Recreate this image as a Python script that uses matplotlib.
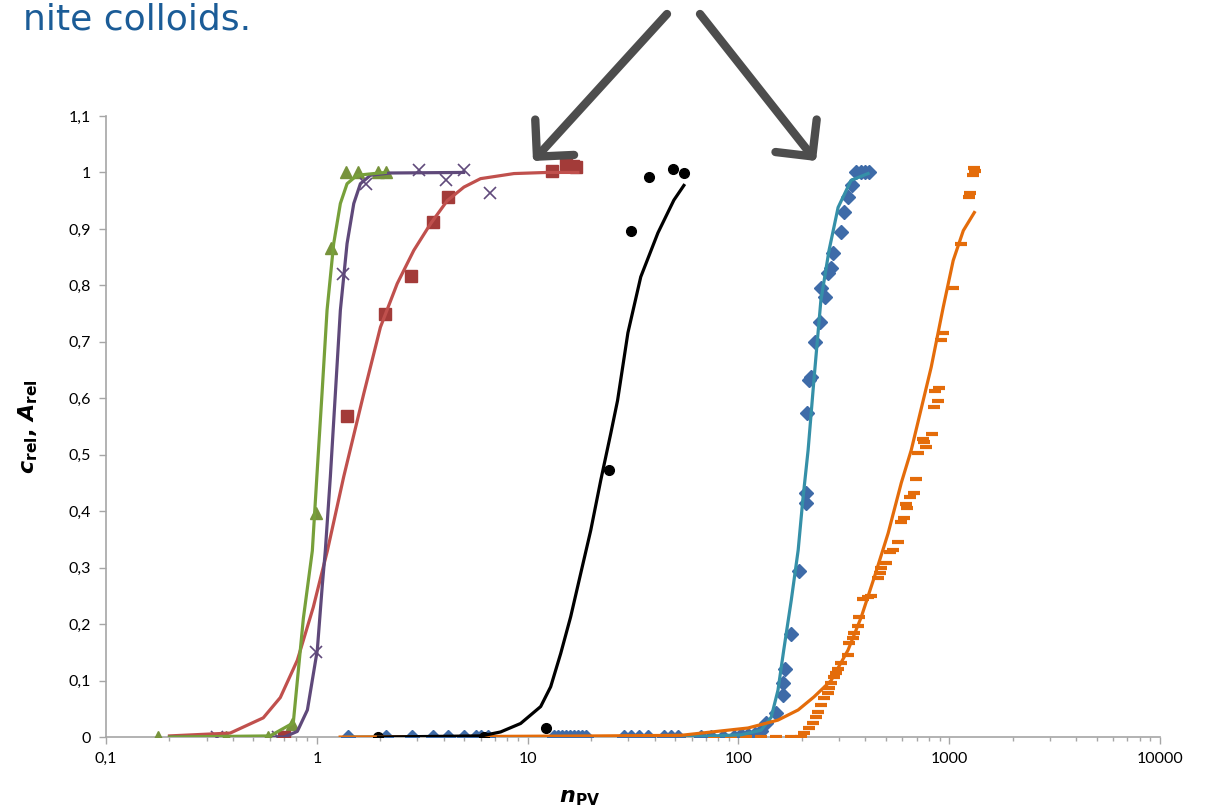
"""Breakthrough curves of tracer and colloids (relative concentration vs. pore volumes)."""

import matplotlib.pyplot as plt
from matplotlib.ticker import FixedLocator, FixedFormatter, LogLocator, NullFormatter

plt.rcParams["font.family"] = ["Lato", "DejaVu Sans"]
plt.rcParams["mathtext.fontset"] = "dejavusans"

# --- measured points -------------------------------------------------------
green_x = [0.177, 0.372, 0.589, 0.765, 0.995, 1.17, 1.37, 1.56, 1.94, 2.12]
green_y = [0.0, 0.0, 0.0, 0.023, 0.397, 0.866, 1.0, 1.0, 1.0, 1.0]

purple_x = [0.336, 0.656, 0.995, 1.336, 1.718, 3.04, 4.12, 4.97, 6.6]
purple_y = [0.0, 0.0, 0.15, 0.82, 0.98, 1.005, 0.986, 1.005, 0.963]

red_x = [0.701, 1.396, 2.115, 2.81, 3.54, 4.21, 13.1, 15.2, 16.4, 16.9]
red_y = [0.0, 0.568, 0.75, 0.816, 0.913, 0.956, 1.003, 1.015, 1.012, 1.01]

black_x = [1.96, 6.18, 12.2, 24.3, 30.8, 37.6, 48.9, 55.1]
black_y = [0.0, 0.0, 0.016, 0.473, 0.896, 0.992, 1.006, 0.999]

blue_x = [1.41, 2.12, 2.84, 3.54, 4.21, 4.97, 5.66, 6.04, 6.46,
          13.3, 13.9, 14.5, 15.2, 15.8, 16.6, 17.3, 18.1, 18.9,
          28.6, 30.9, 33.7, 37.2, 44.2, 47.8, 51.6, 66.4, 74.0, 84.4, 95.2,
          103, 111, 120, 128, 135, 151, 163, 163, 166, 178, 194, 209, 209,
          211, 216, 221, 231, 244, 246, 258, 266, 275, 281, 307, 317, 331,
          346, 361, 382, 399, 417]
blue_y = [0.0, 0.0, 0.0, 0.0, 0.0, 0.0, 0.0, 0.0, 0.0,
          0.0, 0.0, 0.0, 0.0, 0.0, 0.0, 0.0, 0.0, 0.0,
          0.0, 0.0, 0.0, 0.0, 0.0, 0.0, 0.0, 0.0, 0.0, 0.0, 0.0,
          0.003, 0.004, 0.006, 0.01, 0.025, 0.042, 0.074, 0.095, 0.12, 0.182,
          0.294, 0.414, 0.432, 0.574, 0.632, 0.638, 0.70, 0.735, 0.795, 0.779,
          0.822, 0.831, 0.857, 0.895, 0.93, 0.957, 0.978, 1.0, 1.0, 1.0, 1.0]

orange_x = [76.5, 92.0, 109, 128, 151, 178, 198, 205, 216, 226, 233, 239, 247,
            255, 266, 269, 275, 284, 291, 297, 307, 331, 335, 350, 354, 370,
            374, 390, 412, 426, 460, 470, 475, 502, 525, 542, 573, 592, 611,
            631, 625, 653, 682, 697, 713, 778, 761, 752, 830, 849, 887, 859,
            896, 916, 936, 1044, 1140, 1245, 1259, 1300, 1330, 1315]
orange_y = [0.0, 0.0, 0.0, 0.0, 0.0, 0.0, 0.0, 0.007, 0.016, 0.025, 0.035,
            0.044, 0.057, 0.069, 0.078, 0.087, 0.096, 0.106, 0.113, 0.12,
            0.131, 0.145, 0.166, 0.175, 0.184, 0.196, 0.212, 0.245, 0.248,
            0.25, 0.281, 0.29, 0.299, 0.308, 0.328, 0.331, 0.345, 0.38, 0.388,
            0.405, 0.412, 0.425, 0.432, 0.457, 0.503, 0.513, 0.522, 0.527,
            0.536, 0.584, 0.596, 0.612, 0.618, 0.704, 0.715, 0.796, 0.874,
            0.956, 0.963, 0.995, 1.003, 1.007]

# --- fitted curves ---------------------------------------------------------
green_fit_x = [0.2, 0.6, 0.773, 0.863, 0.952, 1.0, 1.058, 1.118, 1.202, 1.293,
               1.391, 1.552, 2.115]
green_fit_y = [0.0, 0.002, 0.025, 0.21, 0.33, 0.461, 0.608, 0.756, 0.874, 0.945,
               0.98, 0.995, 1.0]

purple_fit_x = [0.2, 0.7, 0.808, 0.902, 1.005, 1.062, 1.097, 1.159, 1.224, 1.293,
                1.391, 1.497, 1.609, 1.796, 2.234, 4.97]
purple_fit_y = [0.0, 0.0, 0.01, 0.048, 0.154, 0.27, 0.33, 0.461, 0.608, 0.756,
                0.874, 0.945, 0.98, 0.995, 0.999, 1.0]

red_fit_x = [0.2, 0.388, 0.557, 0.671, 0.808, 0.962, 1.122, 1.341, 1.669, 2.003,
             2.405, 2.884, 3.461, 4.155, 4.984, 5.98, 8.61, 12.4, 17.3]
red_fit_y = [0.002, 0.007, 0.034, 0.07, 0.136, 0.23, 0.33, 0.461, 0.608, 0.726,
             0.803, 0.862, 0.909, 0.95, 0.974, 0.989, 0.998, 1.0, 1.0]

black_fit_x = [1.96, 6.04, 7.44, 9.26, 11.53, 12.86, 14.35, 16.0, 17.86, 19.92,
               22.23, 24.8, 26.7, 29.9, 34.4, 41.5, 49.4, 55.1]
black_fit_y = [0.0, 0.002, 0.009, 0.024, 0.054, 0.089, 0.148, 0.213, 0.29, 0.366,
               0.455, 0.538, 0.596, 0.716, 0.815, 0.893, 0.951, 0.977]

teal_fit_x = [1.41, 66, 103, 128, 143, 154, 164, 178, 192, 202, 214, 228, 246,
              269, 297, 342, 412]
teal_fit_y = [0.0, 0.001, 0.004, 0.012, 0.035, 0.083, 0.154, 0.242, 0.331, 0.42,
              0.508, 0.632, 0.773, 0.862, 0.938, 0.986, 0.998]

orange_fit_x = [1.29, 5.98, 22.2, 53.3, 111, 154, 192, 228, 275, 331, 382, 441,
                513, 592, 660, 821, 936, 1044, 1166, 1315]
orange_fit_y = [0.0, 0.001, 0.002, 0.003, 0.016, 0.03, 0.048, 0.071, 0.1, 0.154,
                0.212, 0.283, 0.361, 0.45, 0.508, 0.655, 0.761, 0.844, 0.897, 0.929]

y_ticks = [0.0, 0.1, 0.2, 0.3, 0.4, 0.5, 0.6, 0.7, 0.8, 0.9, 1.0, 1.1]
y_labels = ["0", "0,1", "0,2", "0,3", "0,4", "0,5", "0,6", "0,7", "0,8", "0,9", "1", "1,1"]
x_ticks = [0.1, 1, 10, 100, 1000, 10000]
x_labels = ["0,1", "1", "10", "100", "1000", "10000"]


def main():
    fig = plt.figure(figsize=(12.05, 8.11), dpi=100)
    ax = fig.add_axes([0.088, 0.0912, 0.8747, 0.7658])

    ax.plot(blue_x, blue_y, "D", color="#3E6BA8", ms=7, mec="#3E6BA8", zorder=3)
    ax.plot(orange_x, orange_y, "_", color="#E46C0A", ms=8, mew=3, zorder=3)
    ax.plot(green_x, green_y, "^", color="#77933C", ms=9, zorder=3)
    ax.plot(purple_x, purple_y, "x", color="#604A7B", ms=8, mew=1.2, zorder=3)
    ax.plot(red_x, red_y, "s", color="#A33B39", ms=8, zorder=3)
    ax.plot(black_x, black_y, "o", color="black", ms=7, zorder=3)

    lw = 2.3
    ax.plot(teal_fit_x, teal_fit_y, color="#3590A8", lw=lw, zorder=4)
    ax.plot(orange_fit_x, orange_fit_y, color="#E46C0A", lw=lw, zorder=4)
    ax.plot(black_fit_x, black_fit_y, color="black", lw=lw, zorder=4)
    ax.plot(red_fit_x, red_fit_y, color="#C0504D", lw=lw, zorder=4)
    ax.plot(purple_fit_x, purple_fit_y, color="#5F497A", lw=lw, zorder=4)
    ax.plot(green_fit_x, green_fit_y, color="#77A03A", lw=lw, zorder=4)

    ax.set_xscale("log")
    ax.set_xlim(0.1, 10000)
    ax.set_ylim(0, 1.1)
    ax.xaxis.set_major_locator(FixedLocator(x_ticks))
    ax.xaxis.set_major_formatter(FixedFormatter(x_labels))
    ax.xaxis.set_minor_locator(LogLocator(base=10, subs=range(2, 10)))
    ax.xaxis.set_minor_formatter(NullFormatter())
    ax.yaxis.set_major_locator(FixedLocator(y_ticks))
    ax.yaxis.set_major_formatter(FixedFormatter(y_labels))

    for side in ("top", "right"):
        ax.spines[side].set_visible(False)
    for side in ("left", "bottom"):
        ax.spines[side].set_color("#A6A6A6")
        ax.spines[side].set_linewidth(1.2)
    ax.tick_params(axis="both", which="major", color="#A6A6A6", length=5, width=1,
                   labelsize=11.5, pad=6)
    ax.tick_params(axis="x", which="minor", color="#A6A6A6", length=3, width=1)

    ax.set_ylabel(r"$\mathbfit{c}_{\mathbf{rel}}\mathbf{,}\ \mathbfit{A}_{\mathbf{rel}}$",
                  fontsize=16, labelpad=20)
    fig.text(580 / 1205, 1 - 798 / 811, r"$\mathbfit{n}_{\mathbf{PV}}$",
             fontsize=16, ha="center", va="center")

    # slide heading fragment, as cropped in the original
    fig.text(251 / 1205, 1 - 29 / 811, "nite colloids.", color="#1B5C97",
             fontsize=26, family="DejaVu Sans", ha="right", va="baseline")

    arrow = dict(arrowstyle="->,head_length=0.45,head_width=0.45", color="#4D4D4D",
                 lw=6, mutation_scale=42, shrinkA=0, shrinkB=0)
    ax.annotate("", xy=(533, 811 - 161), xytext=(667, 811 - 14),
                xycoords="figure pixels", textcoords="figure pixels", arrowprops=arrow)
    ax.annotate("", xy=(816, 811 - 161), xytext=(700, 811 - 14),
                xycoords="figure pixels", textcoords="figure pixels", arrowprops=arrow)

    fig.savefig("out.png", dpi=100)


if __name__ == "__main__":
    main()
